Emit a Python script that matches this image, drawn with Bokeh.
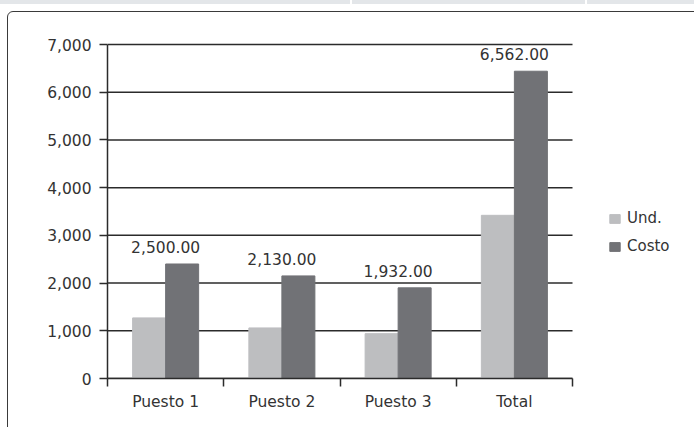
from bokeh.plotting import figure
from bokeh.models import (ColumnDataSource, FixedTicker, LinearAxis, NumeralTickFormatter,
                          Legend, LegendItem, Range1d, InlineStyleSheet)
from bokeh.transform import dodge
from bokeh.core.properties import value
from bokeh.embed import file_html
from bokeh.resources import INLINE

# ---- data ----
categories = ["Puesto 1", "Puesto 2", "Puesto 3", "Total"]
und = [1270, 1060, 940, 3420]
costo = [2400, 2150, 1900, 6440]
cost_labels = [2500.00, 2130.00, 1932.00, 6562.00]
y_ticks = [0, 1000, 2000, 3000, 4000, 5000, 6000, 7000]

FONT = "DejaVu Sans"
TXT = "#333333"
UND_C = "#bdbec0"
COSTO_C = "#717276"
LINE_C = "#2b2b2b"

W, H = 694, 427
LEFT, RIGHT_AXIS_END, TOP, BOTTOM = 107, 572, 44, 378
PAD_TOP = 2  # room so the top grid line is not clipped
ncat = len(categories)
# the frame extends to the right edge so the legend can live inside it;
# the category axis itself spans [0, ncat]
x_end = ncat * (W - LEFT) / (RIGHT_AXIS_END - LEFT)
y_end = y_ticks[-1] * (BOTTOM - TOP + PAD_TOP) / (BOTTOM - TOP)

xc = [i + 0.5 for i in range(ncat)]
src = ColumnDataSource(dict(
    x=xc, und=und, costo=costo,
    lbl=[f"{v:,.2f}" for v in cost_labels],
))

p = figure(width=W, height=H, output_backend="svg", toolbar_location=None,
           x_range=Range1d(0, x_end), y_range=Range1d(0, y_end),
           x_axis_type=None, y_axis_type=None,
           min_border_left=LEFT, min_border_right=0,
           min_border_top=TOP - PAD_TOP, min_border_bottom=H - BOTTOM)
p.outline_line_color = None
p.background_fill_color = "white"
p.border_fill_color = "white"

# y axis
yticker = FixedTicker(ticks=y_ticks)
yaxis = LinearAxis(ticker=yticker, formatter=NumeralTickFormatter(format="0,0"),
                   bounds=(0, y_ticks[-1]))
yaxis.major_tick_out = 8
yaxis.major_tick_in = 0
yaxis.minor_tick_out = 0
yaxis.minor_tick_in = 0
yaxis.axis_line_color = LINE_C
yaxis.axis_line_width = 1.5
yaxis.major_tick_line_color = LINE_C
yaxis.major_tick_line_width = 1.5
yaxis.major_label_standoff = 8
yaxis.major_label_text_font = FONT
yaxis.major_label_text_font_size = "15.5px"
yaxis.major_label_text_color = TXT
p.add_layout(yaxis, "left")

# x axis: labels at category centres, tick marks at category boundaries
xticker = FixedTicker(ticks=xc, minor_ticks=list(range(ncat + 1)))
xaxis = LinearAxis(ticker=xticker, bounds=(0, ncat))
xaxis.major_label_overrides = {x: c for x, c in zip(xc, categories)}
xaxis.major_tick_out = 0
xaxis.major_tick_in = 0
xaxis.minor_tick_out = 8
xaxis.minor_tick_in = 0
xaxis.minor_tick_line_color = LINE_C
xaxis.minor_tick_line_width = 1.5
xaxis.axis_line_color = LINE_C
xaxis.axis_line_width = 1.5
xaxis.major_label_standoff = 6
xaxis.major_label_text_font = FONT
xaxis.major_label_text_font_size = "15.5px"
xaxis.major_label_text_color = TXT
p.add_layout(xaxis, "below")

# horizontal grid lines spanning the category axis only
p.segment(x0=[0] * len(y_ticks), x1=[ncat] * len(y_ticks), y0=y_ticks, y1=y_ticks,
          line_color=LINE_C, line_width=1.5, level="underlay")

bw = 0.284
r_und = p.vbar(x=dodge("x", -bw / 2, range=p.x_range), top="und", width=bw,
               source=src, fill_color=UND_C, line_color=UND_C)
r_cos = p.vbar(x=dodge("x", bw / 2, range=p.x_range), top="costo", width=bw,
               source=src, fill_color=COSTO_C, line_color=COSTO_C)

p.text(x="x", y="costo", text="lbl", source=src, y_offset=-17,
       text_align="center", text_baseline="middle",
       text_font=value(FONT), text_font_size="15.5px", text_color=TXT)

legend = Legend(items=[LegendItem(label="Und.", renderers=[r_und]),
                       LegendItem(label="Costo", renderers=[r_cos])],
                location=(501, 121))
legend.border_line_color = None
legend.background_fill_alpha = 0
legend.padding = 0
legend.margin = 0
legend.spacing = 6
legend.label_height = 22
legend.glyph_width = 13
legend.glyph_height = 11
legend.label_standoff = 6
legend.label_text_font = FONT
legend.label_text_font_size = "15px"
legend.label_text_color = TXT
p.add_layout(legend)

# spreadsheet strip at top and rounded chart frame (page decoration)
p.stylesheets = [InlineStyleSheet(css="""
:host::before {
  content: ""; position: fixed; left: 0; top: 0; width: 694px; height: 4px;
  background: linear-gradient(to right, #e3e6e9 0 350px, #ffffff 350px 352px,
              #e3e6e9 352px 585px, #ffffff 585px 587px, #e3e6e9 587px);
  pointer-events: none; z-index: 10;
}
:host::after {
  content: ""; position: fixed; left: 7px; top: 11px; width: 760px; height: 500px;
  border: 1.5px solid #3a3a3a; border-radius: 6px;
  pointer-events: none; z-index: 10;
}
""")]

open("out.html", "w").write(file_html(p, INLINE))
